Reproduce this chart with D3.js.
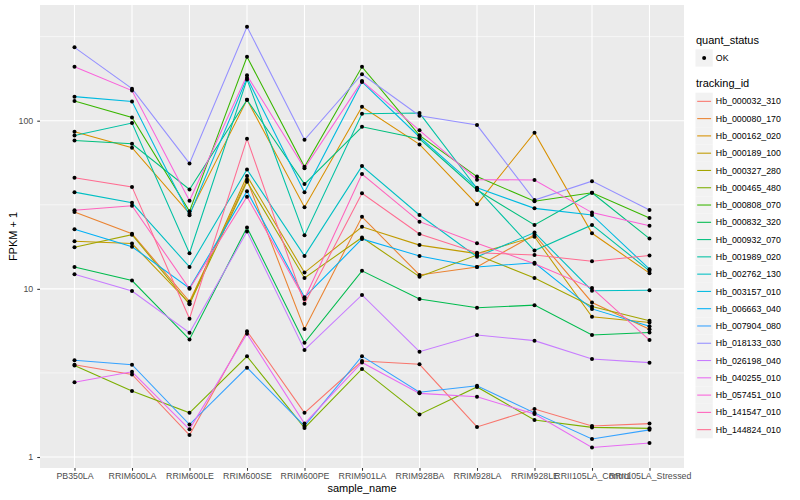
<!DOCTYPE html>
<html><head><meta charset="utf-8">
<script src="https://cdn.jsdelivr.net/npm/d3@7"></script>
<style>
body{margin:0;background:#fff;}
svg text{font-family:"Liberation Sans",Arial,Helvetica,sans-serif;}
</style></head>
<body><svg id="c" width="800" height="500"></svg>
<script>
const samples = ["PB350LA","RRIM600LA","RRIM600LE","RRIM600SE","RRIM600PE","RRIM901LA","RRIM928BA","RRIM928LA","RRIM928LE","RRII105LA_Control","RRII105LA_Stressed"];
const trackingIds = ["Hb_000032_310","Hb_000080_170","Hb_000162_020","Hb_000189_100","Hb_000327_280","Hb_000465_480","Hb_000808_070","Hb_000832_320","Hb_000932_070","Hb_001989_020","Hb_002762_130","Hb_003157_010","Hb_006663_040","Hb_007904_080","Hb_018133_030","Hb_026198_040","Hb_040255_010","Hb_057451_010","Hb_141547_010","Hb_144824_010"];
const palette = ["#F8766D","#EA8331","#D89000","#C09B00","#A3A500","#7CAE00","#39B600","#00BB4E","#00BF7D","#00C1A3","#00BFC4","#00BAE0","#00B0F6","#35A2FF","#9590FF","#C77CFF","#E76BF3","#FA62DB","#FF62BC","#FF6C91"];
const yTicks = [1, 10, 100];
const yMinor = [3.1623, 31.623, 316.23];

// FPKM + 1 per sample, one array per tracking_id
const Hb_000032_310 = [3.54, 3.1, 1.35, 5.6, 1.83, 3.72, 3.56, 1.51, 1.93, 1.53, 1.58];
const Hb_000080_170 = [28.6, 21.3, 8.4, 44.5, 5.77, 26.8, 12.1, 13.5, 21.0, 8.3, 5.75];
const Hb_000162_020 = [85.9, 69.1, 28.0, 133, 30.6, 121, 72.3, 31.8, 84.8, 21.4, 12.4];
const Hb_000189_100 = [19.2, 18.6, 8.2, 46.9, 12.5, 23.4, 18.2, 16.2, 20.4, 6.82, 6.3];
const Hb_000327_280 = [17.7, 21.0, 8.1, 43.4, 11.6, 20.2, 11.8, 15.9, 11.6, 7.85, 6.46];
const Hb_000465_480 = [3.5, 2.47, 1.83, 3.97, 1.49, 3.34, 1.79, 2.61, 1.66, 1.50, 1.48];
const Hb_000808_070 = [131, 104.6, 28.9, 240, 53.2, 209, 81.8, 46.5, 33.2, 37.3, 26.4];
const Hb_000832_320 = [13.5, 11.2, 5.0, 23.2, 4.78, 12.8, 8.7, 7.72, 8.0, 5.31, 5.5];
const Hb_000932_070 = [76.3, 72.9, 39.0, 133, 42.0, 92, 78, 38.7, 24.0, 37.3, 19.9];
const Hb_001989_020 = [81.7, 96.8, 16.3, 176, 20.8, 110, 111, 39.5, 16.9, 24.0, 12.8];
const Hb_002762_130 = [37.6, 32.5, 13.5, 51.3, 15.7, 53.7, 27.5, 15.5, 21.6, 9.75, 9.8];
const Hb_003157_010 = [139, 130, 27.4, 180, 37.5, 170, 80, 39.9, 30.1, 27.5, 13.1];
const Hb_006663_040 = [22.6, 17.8, 10.1, 38.1, 8.9, 19.8, 15.7, 13.5, 14.3, 7.6, 6.0];
const Hb_007904_080 = [3.76, 3.54, 1.56, 3.4, 1.53, 3.98, 2.43, 2.65, 1.83, 1.28, 1.45];
const Hb_018133_030 = [273, 155, 55.7, 362, 77, 189, 107, 94.2, 33.7, 43.7, 29.4];
const Hb_026198_040 = [12.2, 9.7, 5.48, 21.9, 4.33, 9.2, 4.23, 5.31, 4.92, 3.83, 3.64];
const Hb_040255_010 = [2.78, 3.21, 1.46, 5.4, 1.58, 3.65, 2.39, 2.28, 1.80, 1.14, 1.21];
const Hb_057451_010 = [209, 151, 33.4, 186, 52.1, 172, 87.6, 44.6, 44.4, 28.4, 23.7];
const Hb_141547_010 = [29.3, 31.2, 10.0, 35.3, 8.7, 48.2, 25.1, 18.7, 14.1, 10.1, 4.96];
const Hb_144824_010 = [45.8, 40.4, 6.64, 78, 8.16, 37, 21.2, 16.4, 15.9, 14.6, 15.8];

const seriesValues = [Hb_000032_310,Hb_000080_170,Hb_000162_020,Hb_000189_100,Hb_000327_280,Hb_000465_480,Hb_000808_070,Hb_000832_320,Hb_000932_070,Hb_001989_020,Hb_002762_130,Hb_003157_010,Hb_006663_040,Hb_007904_080,Hb_018133_030,Hb_026198_040,Hb_040255_010,Hb_057451_010,Hb_141547_010,Hb_144824_010];

const series = trackingIds.map((id, i) => ({id, color: palette[i], values: seriesValues[i].map((v, j) => ({s: samples[j], v}))}));

const svg = d3.select("#c");
const P = {l: 40, r: 684, t: 5, b: 468};

const x = d3.scalePoint().domain(samples).range([P.l, P.r]).padding(0.6);
const y = d3.scaleLog().domain([Math.pow(10, -0.0654), Math.pow(10, 2.688)]).range([P.b, P.t]);

svg.append("rect").attr("x", P.l).attr("y", P.t).attr("width", P.r - P.l).attr("height", P.b - P.t).attr("fill", "#EBEBEB");

const grid = svg.append("g");
grid.selectAll(".mn").data(yMinor).enter().append("line")
  .attr("x1", P.l).attr("x2", P.r).attr("y1", d => y(d)).attr("y2", d => y(d))
  .attr("stroke", "#fff").attr("stroke-width", 0.55);
grid.selectAll(".mj").data(yTicks).enter().append("line")
  .attr("x1", P.l).attr("x2", P.r).attr("y1", d => y(d)).attr("y2", d => y(d))
  .attr("stroke", "#fff").attr("stroke-width", 1.1);
grid.selectAll(".vx").data(samples).enter().append("line")
  .attr("x1", d => x(d)).attr("x2", d => x(d)).attr("y1", P.t).attr("y2", P.b)
  .attr("stroke", "#fff").attr("stroke-width", 1.1);

const line = d3.line().x(d => x(d.s)).y(d => y(d.v));
svg.append("g").selectAll("path").data(series).enter().append("path")
  .attr("d", d => line(d.values)).attr("fill", "none")
  .attr("stroke", d => d.color).attr("stroke-width", 1.07);

const pts = svg.append("g");
series.forEach(sr => {
  pts.selectAll(null).data(sr.values).enter().append("circle")
    .attr("cx", d => x(d.s)).attr("cy", d => y(d.v)).attr("r", 2).attr("fill", "#000");
});

// axes
const yAxis = d3.axisLeft(y).tickValues(yTicks).tickFormat(d3.format("d")).tickSize(2.75).tickPadding(4);
const gy = svg.append("g").attr("transform", `translate(${P.l},0)`).call(yAxis);
const xAxis = d3.axisBottom(x).tickSize(2.75).tickPadding(2.2);
const gx = svg.append("g").attr("transform", `translate(0,${P.b})`).call(xAxis);
[gx, gy].forEach(g => {
  g.select(".domain").remove();
  g.selectAll(".tick line").attr("stroke", "#333333").attr("stroke-width", 1.07);
  g.selectAll(".tick text").attr("fill", "#4D4D4D").attr("font-size", 8.8)
    .attr("font-family", '"Liberation Sans",Arial,sans-serif');
});

svg.append("text").attr("x", (P.l + P.r) / 2).attr("y", 492).attr("text-anchor", "middle")
  .attr("font-size", 11).attr("fill", "#000").text("sample_name");
svg.append("text").attr("transform", `translate(17,${(P.t + P.b) / 2}) rotate(-90)`)
  .attr("text-anchor", "middle").attr("font-size", 11).attr("fill", "#000").text("FPKM + 1");

// legend
const L = svg.append("g");
const kx = 695.5, kw = 17.28, tx = 715.8;
L.append("text").attr("x", 696).attr("y", 44).attr("font-size", 11).text("quant_status");
L.append("rect").attr("x", kx).attr("y", 49.3).attr("width", kw).attr("height", kw).attr("fill", "#F2F2F2");
L.append("circle").attr("cx", kx + kw / 2).attr("cy", 49.3 + kw / 2).attr("r", 2).attr("fill", "#000");
L.append("text").attr("x", tx).attr("y", 49.3 + kw / 2 + 3.1).attr("font-size", 8.8).text("OK");

L.append("text").attr("x", 696).attr("y", 87).attr("font-size", 11).text("tracking_id");
const top0 = 92.7;
const items = L.selectAll(".it").data(series).enter().append("g")
  .attr("transform", (d, i) => `translate(0,${top0 + i * kw})`);
items.append("rect").attr("x", kx).attr("y", 0).attr("width", kw).attr("height", kw).attr("fill", "#F2F2F2");
items.append("line").attr("x1", kx + 1.7).attr("x2", kx + kw - 1.7).attr("y1", kw / 2).attr("y2", kw / 2)
  .attr("stroke", d => d.color).attr("stroke-width", 1.07);
items.append("text").attr("x", tx).attr("y", kw / 2 + 3.1).attr("font-size", 8.8).text(d => d.id);
</script></body></html>
